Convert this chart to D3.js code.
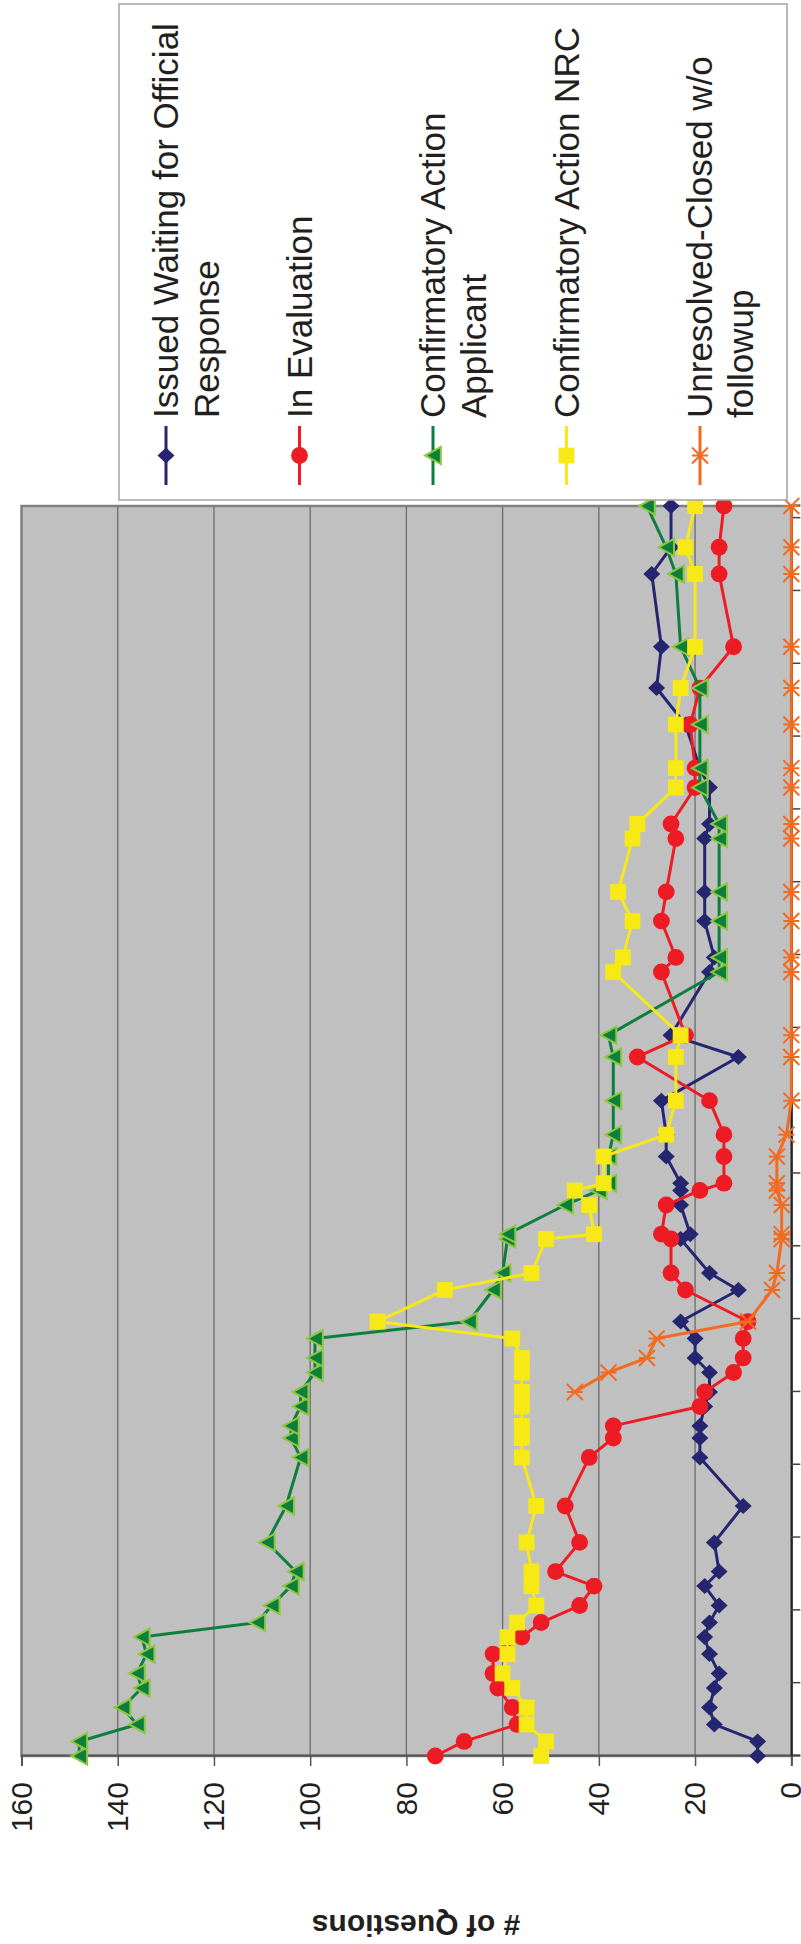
<!DOCTYPE html>
<html>
<head>
<meta charset="utf-8">
<script src="https://cdn.jsdelivr.net/npm/d3@7"></script>
<style>
  body { margin: 0; background: #fff; }
  svg { display: block; }
  text { font-family: "Liberation Sans", Arial, sans-serif; fill: #231f20; }
</style>
</head>
<body>
<svg id="chart" width="801" height="1944"></svg>
<script>
// === Data (days since first report, counts per status) ===
const days = [0, 6, 13, 20, 28, 34, 42, 49, 55, 62, 70, 76, 88, 103, 123, 131, 136, 144, 150, 158,
  164, 172, 179, 192, 199, 213, 215, 227, 233, 236, 247, 256, 270, 288, 297, 323, 329, 344, 356, 378,
  384, 399, 407, 425, 440, 457, 487, 498, 515];

const issued = [7, 7, 16, 17, 16, 15, 17, 18, 17, 15, 18, 15, 16, 10, 19, 19, 19, 18, 17, 17, 20, 20,
  23, 11, 17, 23, 21, 23, 23, 23, 26, 26, 27, 11, 25,
  17, 16, 18, 18, 18, 17, 17, 19, 22, 28, 27, 29, 25, 25];

const inEvaluation = [74, 68, 57, 58, 61, 62, 62, 56, 52, 44, 41, 49, 44, 47, 42, 37, 37, 19, 18, 12, 10, 10,
  9, 22, 25, 25, 27, 26, 19, 14, 14, 14, 17, 32, 22,
  27, 24, 27, 26, 24, 25, 20, 20, 21, 19, 12, 15, 15, 14];

const actionApplicant = [148, 148, 136, 139, 135, 136, 134, 135, 111, 108, 104, 103, 109, 105, 102, 104, 104, 102, 102, 99, 99, 99,
  67, 62, 60, 59, 59, 47, 40, 38, 38, 37, 37, 37, 38,
  15, 15, 15, 15, 15, 15, 19, 19, 19, 19, 23, 24, 26, 30];

const actionNRC = [52, 51, 55, 55, 58, 60, 59, 59, 57, 53, 54, 54, 55, 53, 56, 56, 56, 56, 56, 56, 56, 58,
  86, 72, 54, 51, 41, 42, 45, 39, 39, 26, 24, 24, 23,
  37, 35, 33, 36, 33, 32, 24, 24, 24, 23, 20, 20, 22, 20];

const unresolved = [null, null, null, null, null, null, null, null, null, null, null, null, null, null, null, null, null, null, 45, 38, 30, 28,
  9, 4, 3, 2, 2, 2, 3, 3, 3, 1, 0, 0, 0,
  0, 0, 0, 0, 0, 0, 0, 0, 0, 0, 0, 0, 0, 0];

const valueTicks = [0, 20, 40, 60, 80, 100, 120, 140, 160];
const dayTicks = d3.range(0, 516, 30);

const seriesNames = [
  ['Issued Waiting for Official', 'Response'],
  ['In Evaluation'],
  ['Confirmatory Action', 'Applicant'],
  ['Confirmatory Action NRC'],
  ['Unresolved-Closed w/o', 'followup']
];

// === Marker shapes ===
const diamond = {
  draw(ctx, size) {
    const r = Math.sqrt(size) / 2;
    ctx.moveTo(0, -r * 1.06); ctx.lineTo(r, 0); ctx.lineTo(0, r * 1.06); ctx.lineTo(-r, 0); ctx.closePath();
  }
};
const triangle = {
  draw(ctx, size) {
    const r = Math.sqrt(size) / 2;
    ctx.moveTo(0, -r * 0.92); ctx.lineTo(r, r * 0.92); ctx.lineTo(-r, r * 0.92); ctx.closePath();
  }
};
const star = {
  draw(ctx, size) {
    const r = Math.sqrt(size) / 2;
    ctx.moveTo(-r, -r); ctx.lineTo(r, r);
    ctx.moveTo(-r, r); ctx.lineTo(r, -r);
    ctx.moveTo(0, -r); ctx.lineTo(0, r);
  }
};

const series = [
  { values: issued, color: '#25266f', shape: diamond, size: 256, fill: '#25266f', stroke: 'none' },
  { values: inEvaluation, color: '#ed1c24', shape: d3.symbolCircle, size: 222, fill: '#ed1c24', stroke: 'none' },
  { values: actionApplicant, color: '#0c7f3c', shape: triangle, size: 290, fill: '#0c7f3c', stroke: '#8dc63f' },
  { values: actionNRC, color: '#f7e915', shape: d3.symbolSquare, size: 250, fill: '#f7e915', stroke: 'none' },
  { values: unresolved, color: '#f26b21', shape: star, size: 256, fill: 'none', stroke: '#f26b21' }
];

// === Layout (drawn upright, then turned a quarter turn) ===
const plot = { left: 188, right: 1438, top: 21.5, bottom: 791.3 };

const svg = d3.select('#chart');
const g = svg.append('g').attr('transform', 'translate(0,1944) rotate(-90)');

const x = d3.scaleLinear().domain([0, 515]).range([plot.left, plot.right]);
const y = d3.scaleLinear().domain([0, 160]).range([plot.bottom, plot.top]);

// plot area
g.append('rect')
  .attr('x', plot.left).attr('y', plot.top)
  .attr('width', plot.right - plot.left).attr('height', plot.bottom - plot.top)
  .attr('fill', '#c0c0c0');

// gridlines
g.append('g')
  .selectAll('line')
  .data(valueTicks.filter((v) => v > 0 && v < 160))
  .join('line')
  .attr('x1', plot.left).attr('x2', plot.right)
  .attr('y1', (d) => y(d)).attr('y2', (d) => y(d))
  .attr('stroke', '#6b6b6b').attr('stroke-width', 1.3);

g.append('rect')
  .attr('x', plot.left).attr('y', plot.top)
  .attr('width', plot.right - plot.left).attr('height', plot.bottom - plot.top)
  .attr('fill', 'none').attr('stroke', '#808080').attr('stroke-width', 2.5);

// value axis
const yAxis = g.append('g')
  .attr('transform', `translate(${plot.left},0)`)
  .call(d3.axisLeft(y).tickValues(valueTicks).tickSize(10).tickPadding(16));
yAxis.select('.domain').attr('stroke', '#555').attr('stroke-width', 2);
yAxis.selectAll('.tick line').attr('stroke', '#555').attr('stroke-width', 1.5);
yAxis.selectAll('.tick text')
  .attr('font-size', 30).attr('font-family', '"Liberation Sans", Arial, sans-serif')
  .attr('fill', '#231f20');

// date axis (no labels)
const xAxis = g.append('g')
  .attr('transform', `translate(0,${plot.bottom})`)
  .call(d3.axisBottom(x).tickValues(dayTicks).tickSize(9).tickFormat(''));
xAxis.select('.domain').attr('stroke', '#222').attr('stroke-width', 2);
xAxis.selectAll('.tick line').attr('stroke', '#444').attr('stroke-width', 1.5);

// axis title
g.append('text')
  .attr('transform', `translate(29,416) rotate(-90)`)
  .attr('text-anchor', 'middle')
  .attr('font-size', 30).attr('font-weight', 'bold')
  .text('# of Questions');

// === Series ===
series.forEach((s) => {
  const pts = days.map((d, i) => ({ d, v: s.values[i] })).filter((p) => p.v !== null);
  const line = d3.line().x((p) => x(p.d)).y((p) => y(p.v));

  g.append('path')
    .attr('d', line(pts))
    .attr('fill', 'none')
    .attr('stroke', s.color)
    .attr('stroke-width', 3)
    .attr('stroke-linejoin', 'round');

  g.append('g')
    .selectAll('path')
    .data(pts)
    .join('path')
    .attr('transform', (p) => `translate(${x(p.d)},${y(p.v)})`)
    .attr('d', d3.symbol().type(s.shape).size(s.size))
    .attr('fill', s.fill)
    .attr('stroke', s.stroke)
    .attr('stroke-width', 2);
});

// === Legend ===
const legend = g.append('g');
legend.append('rect')
  .attr('x', 1444).attr('y', 119)
  .attr('width', 496).attr('height', 668)
  .attr('fill', '#fff').attr('stroke', '#a3a3a3').attr('stroke-width', 1.5);

series.forEach((s, i) => {
  const cy = 166 + i * 133.5;
  const item = legend.append('g');
  item.append('line')
    .attr('x1', 1459).attr('x2', 1518)
    .attr('y1', cy).attr('y2', cy)
    .attr('stroke', s.color).attr('stroke-width', 3);
  item.append('path')
    .attr('transform', `translate(1488.5,${cy})`)
    .attr('d', d3.symbol().type(s.shape).size(s.size))
    .attr('fill', s.fill)
    .attr('stroke', s.stroke)
    .attr('stroke-width', 2);
  seriesNames[i].forEach((txt, k) => {
    item.append('text')
      .attr('x', 1526)
      .attr('y', cy + 12 + k * 41)
      .attr('font-size', 35)
      .text(txt);
  });
});
</script>
</body>
</html>
